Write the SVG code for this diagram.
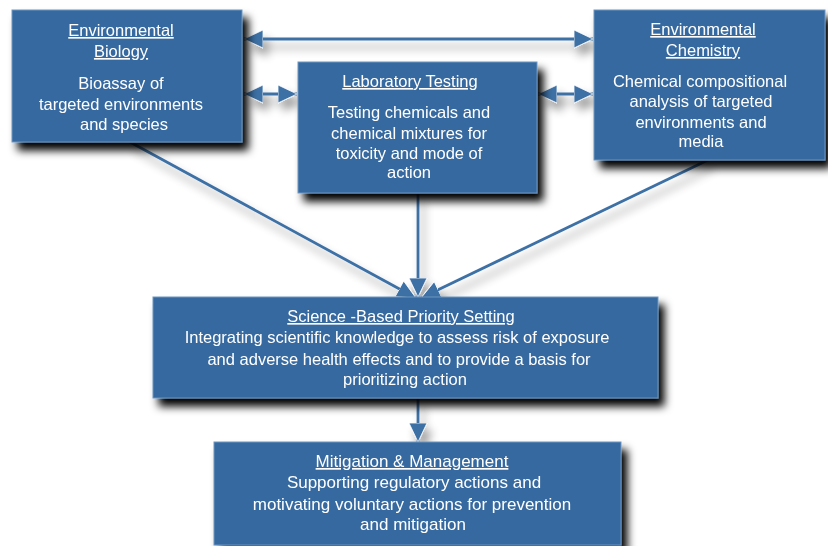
<svg xmlns="http://www.w3.org/2000/svg" width="828" height="546" viewBox="0 0 828 546">
  <defs>
    <filter id="boxShadow" x="-10%" y="-10%" width="130%" height="140%">
      <feGaussianBlur in="SourceAlpha" stdDeviation="4.5"/>
      <feOffset dx="6" dy="8" result="blur"/>
      <feComponentTransfer><feFuncA type="linear" slope="1"/></feComponentTransfer>
      <feMerge><feMergeNode/><feMergeNode in="SourceGraphic"/></feMerge>
    </filter>
    <filter id="lineShadow" x="-10%" y="-30%" width="130%" height="180%">
      <feGaussianBlur in="SourceAlpha" stdDeviation="5"/>
      <feOffset dx="5" dy="8"/>
      <feComponentTransfer><feFuncA type="linear" slope="0.4"/></feComponentTransfer>
      <feMerge><feMergeNode/><feMergeNode in="SourceGraphic"/></feMerge>
    </filter>
    <marker id="head" markerUnits="userSpaceOnUse" markerWidth="20" markerHeight="20" refX="19" refY="9.5" orient="auto-start-reverse" viewBox="0 0 20 19">
      <path d="M0,0.5 L19,9.5 L0,18.5 z" fill="#3d70a5" stroke="#ffffff" stroke-width="0.8"/>
    </marker>
  </defs>
  <style>
    .box { fill: #36699f; stroke: #6d95c0; stroke-width: 1; }
    .title { font-family: "Liberation Sans", Arial, sans-serif; font-size: 16.5px; fill: #ffffff; text-anchor: middle; text-decoration: underline; }
    .body { font-family: "Liberation Sans", Arial, sans-serif; font-size: 16.5px; fill: #ffffff; text-anchor: middle; }
    .wide { font-size: 17px; }
    .link { stroke: #3d70a5; stroke-width: 2.8; fill: none; }
  </style>
  <rect width="828" height="546" fill="#ffffff"/>

  <g id="connectors" filter="url(#lineShadow)">
    <line class="link" x1="244" y1="39" x2="593" y2="39" marker-start="url(#head)" marker-end="url(#head)"/>
    <line class="link" x1="244" y1="94" x2="297" y2="94" marker-start="url(#head)" marker-end="url(#head)"/>
    <line class="link" x1="538" y1="94" x2="593" y2="94" marker-start="url(#head)" marker-end="url(#head)"/>
    <line class="link" x1="130" y1="142" x2="416" y2="298" marker-end="url(#head)"/>
    <line class="link" x1="708" y1="160" x2="421" y2="298" marker-end="url(#head)"/>
    <line class="link" x1="418" y1="193" x2="418" y2="297" marker-end="url(#head)"/>
    <line class="link" x1="418" y1="398" x2="418" y2="442" marker-end="url(#head)"/>
  </g>

  <g id="environmental-biology" filter="url(#boxShadow)">
    <rect class="box" x="12" y="10" width="230" height="132"/>
    <text class="title" x="121" y="36">Environmental</text>
    <text class="title" x="121" y="57">Biology</text>
    <text class="body" x="121" y="89">Bioassay of</text>
    <text class="body" x="121" y="110">targeted environments</text>
    <text class="body" x="124" y="130">and species</text>
  </g>

  <g id="laboratory-testing" filter="url(#boxShadow)">
    <rect class="box" x="298" y="62" width="239" height="131"/>
    <text class="title" x="410" y="87">Laboratory Testing</text>
    <text class="body" x="409" y="118">Testing chemicals and</text>
    <text class="body" x="409" y="139">chemical mixtures for</text>
    <text class="body" x="409" y="159">toxicity and mode of</text>
    <text class="body" x="409" y="178">action</text>
  </g>

  <g id="environmental-chemistry" filter="url(#boxShadow)">
    <rect class="box" x="594" y="10" width="231" height="150"/>
    <text class="title" x="703" y="35">Environmental</text>
    <text class="title" x="703" y="56">Chemistry</text>
    <text class="body" x="700" y="87">Chemical compositional</text>
    <text class="body" x="701" y="107">analysis of targeted</text>
    <text class="body" x="701" y="128">environments and</text>
    <text class="body" x="701" y="147">media</text>
  </g>

  <g id="priority-setting" filter="url(#boxShadow)">
    <rect class="box" x="153" y="297" width="505" height="101"/>
    <text class="title" x="401" y="322">Science -Based Priority Setting</text>
    <text class="body" x="397" y="343">Integrating scientific knowledge to assess risk of exposure</text>
    <text class="body" x="399" y="365">and adverse health effects and to provide a basis for</text>
    <text class="body" x="405" y="385">prioritizing action</text>
  </g>

  <g id="mitigation-management" filter="url(#boxShadow)">
    <rect class="box" x="214" y="442" width="407" height="103"/>
    <text class="title wide" x="412" y="467">Mitigation &amp; Management</text>
    <text class="body wide" x="414" y="488">Supporting regulatory actions and</text>
    <text class="body wide" x="412" y="510">motivating voluntary actions for prevention</text>
    <text class="body wide" x="413" y="530">and mitigation</text>
  </g>
</svg>
